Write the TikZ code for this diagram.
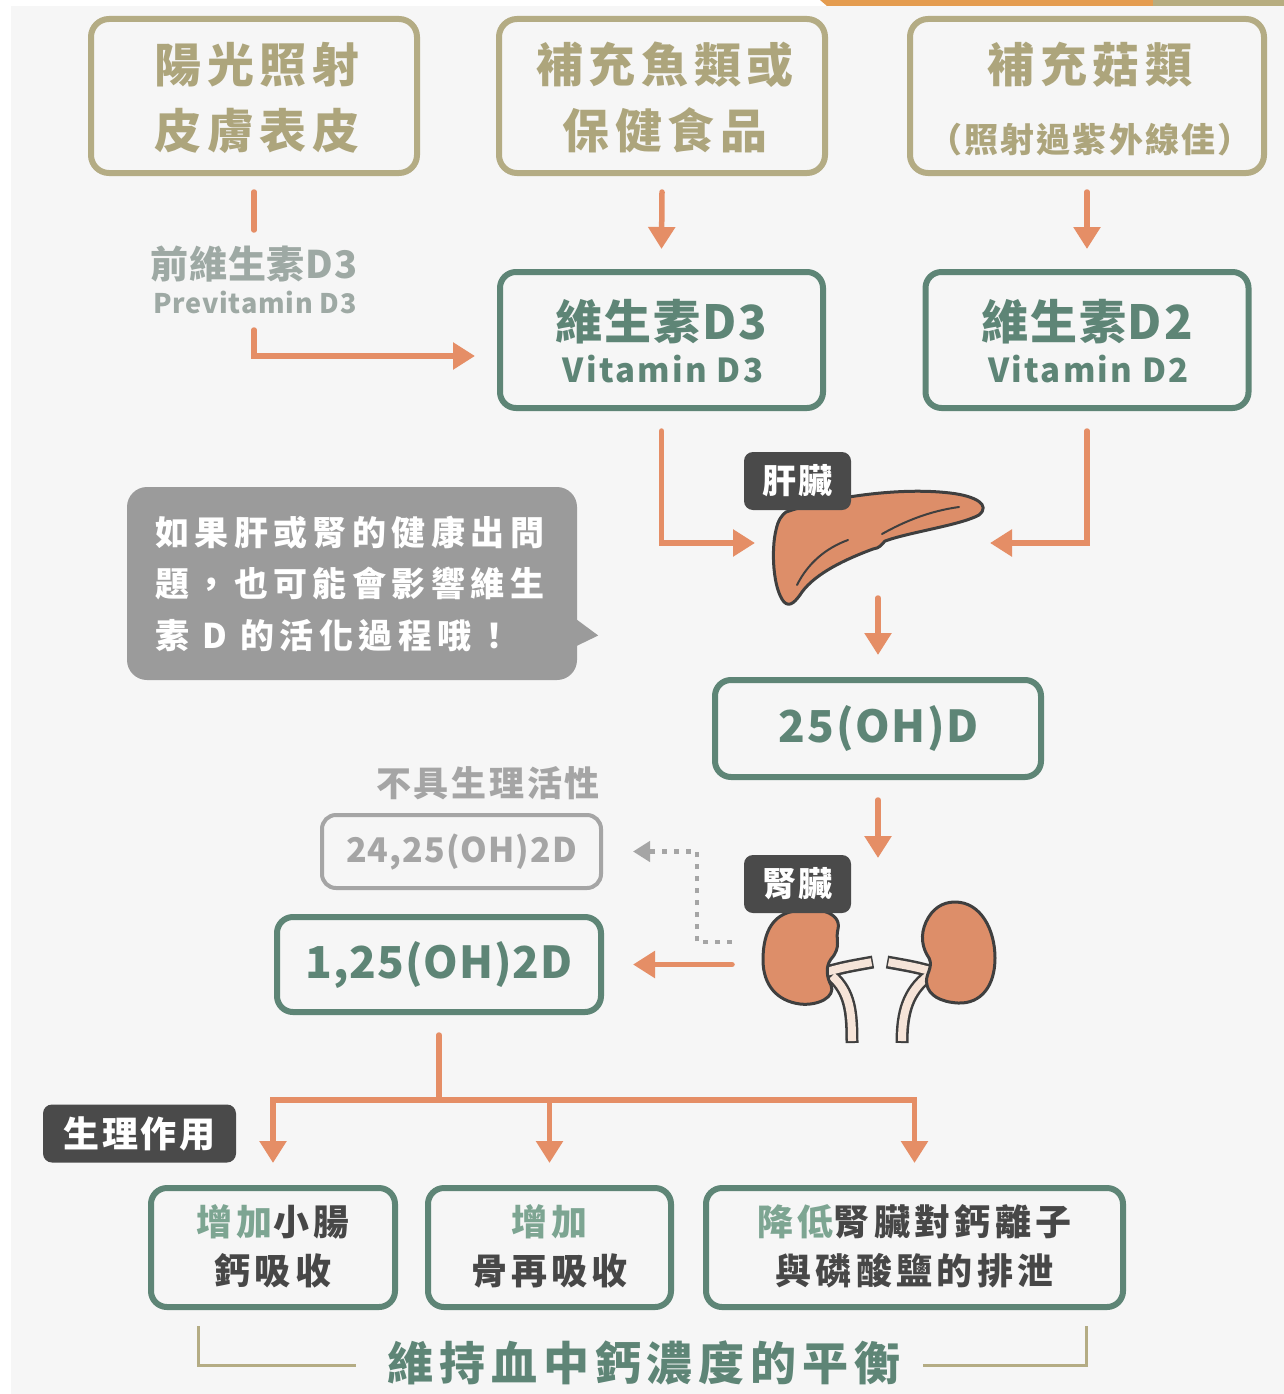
\documentclass[tikz,border=0pt]{standalone}
\usepackage{fontspec}
\setmainfont{Noto Sans CJK TC}
\usetikzlibrary{arrows.meta,calc}

\newcommand\setfs[2]{\fontsize{#1}{#2}\selectfont}
\newcommand\trk[1]{\addfontfeature{LetterSpace=#1}}

\definecolor{bgc}{HTML}{F6F6F6}
\definecolor{olive}{HTML}{B4AC84}
\definecolor{olivetxt}{HTML}{ADA57C}
\definecolor{sage}{HTML}{5E8576}
\definecolor{sagelt}{HTML}{7DA592}
\definecolor{coral}{HTML}{E58E66}
\definecolor{mist}{HTML}{9EA9A4}
\definecolor{ash}{HTML}{A5A5A5}
\definecolor{charcoal}{HTML}{4A4A4A}
\definecolor{bubblec}{HTML}{9B9B9B}
\definecolor{ink}{HTML}{3F3F3F}
\definecolor{organ}{HTML}{DD8E69}
\definecolor{duct}{HTML}{F6E4D8}
\definecolor{topor}{HTML}{E49C50}
\definecolor{topol}{HTML}{B7AD80}
\definecolor{bodytxt}{HTML}{474747}

\tikzset{
  srcbox/.style={draw=olive, line width=6pt, rounded corners=18pt, minimum height=154pt, inner sep=0pt},
  grnbox/.style={draw=sage, line width=6pt, rounded corners=16pt, inner sep=0pt},
  greybox/.style={draw=ash, line width=4pt, rounded corners=14pt, inner sep=0pt},
  tag/.style={fill=charcoal, rounded corners=9pt, text=white, inner sep=0pt,
    font=\setfs{34}{40}\bfseries\trk{6}},
  txt/.style={anchor=base, inner sep=0pt},
  srctxt/.style={txt, text=olivetxt, font=\setfs{47}{56}\bfseries\trk{12}},
  titletxt/.style={txt, text=sage, font=\setfs{47}{56}\bfseries\trk{4}},
  subtxt/.style={txt, text=sage, font=\setfs{33}{40}\bfseries\trk{7}},
  chemtxt/.style={txt, text=sage, font=\setfs{44}{52}\bfseries\trk{4}},
  efftxt/.style={txt, text=bodytxt, font=\setfs{36}{44}\bfseries\trk{12}},
  bubtxt/.style={anchor=base west, inner sep=0pt, text=white, font=\setfs{34}{40}\bfseries\trk{16}},
  ln/.style={draw=coral, line width=5.5pt, line cap=round},
  arr/.style={ln, -{Triangle[length=22pt,width=26pt]}},
  dotarr/.style={draw=ash, line width=4.5pt, dash pattern=on 5pt off 7pt,
    -{Triangle[length=17pt,width=20pt]}},
  bracket/.style={draw=olive, line width=3pt},
  outline/.style={draw=ink, line width=3pt, line join=round},
  tubeout/.style={draw=ink, line width=13pt},
  tubein/.style={draw=duct, line width=8pt},
}

\begin{document}
\begin{tikzpicture}[x=1pt,y=-1pt]
\useasboundingbox (0,0) rectangle (1284,1394);

% page background and top strip
\fill[white] (0,0) rectangle (1284,1394);
\fill[bgc] (11,6) rectangle (1284,1394);
\fill[topor] (820,0) -- (1153,0) -- (1153,6) -- (827,6) -- cycle;
\fill[topol] (1153,0) rectangle (1284,6);

% sources
\node[srcbox, minimum width=326pt] (sun) at (254,96) {};
\node[srctxt] (sun1) at (257,83) {陽光照射};
\node[srctxt] (sun2) at (257,149) {皮膚表皮};

\node[srcbox, minimum width=326pt] (fish) at (662,96) {};
\node[srctxt] (fish1) at (665,83) {補充魚類或};
\node[srctxt] (fish2) at (665,149) {保健食品};

\node[srcbox, minimum width=354pt] (mush) at (1087,96) {};
\node[srctxt] (mush1) at (1090,83) {補充菇類};
\node[txt, text=olivetxt, font=\setfs{34}{40}\bfseries\trk{6}] (mush2) at (1090,152) {（照射過紫外線佳）};

% previtamin label
\node[txt, text=mist, font=\setfs{38}{44}\bfseries\trk{2}] (pre1) at (254,278) {前維生素D3};
\node[txt, text=mist, font=\setfs{27}{34}\bfseries\trk{3}] (pre2) at (255,313) {Previtamin D3};

% vitamin boxes
\node[grnbox, minimum width=323pt, minimum height=136pt] (vd3) at (661.5,340) {};
\node[titletxt] (vd3a) at (661.5,339) {維生素D3};
\node[subtxt] (vd3b) at (663,382) {Vitamin D3};

\node[grnbox, minimum width=323pt, minimum height=136pt] (vd2) at (1087,340) {};
\node[titletxt] (vd2a) at (1087,339) {維生素D2};
\node[subtxt] (vd2b) at (1088.5,382) {Vitamin D2};

% liver
\filldraw[outline, fill=organ]
  (786,512) .. controls (830,497) and (900,487) .. (950,493)
  .. controls (976,496) and (991,505) .. (979,515)
  .. controls (961,525) and (910,532) .. (885,541)
  .. controls (881,545) and (880,548) .. (873,549)
  .. controls (846,559) and (816,573) .. (802,592)
  .. controls (796,601) and (790,608) .. (784,602)
  .. controls (773,589) and (771,550) .. (776,530)
  .. controls (778,520) and (782,515) .. (786,512) -- cycle;
\draw[ink, line width=2pt, line cap=round] (797,585) .. controls (808,563) and (826,548) .. (848,540);
\draw[ink, line width=2pt, line cap=round] (882,534) .. controls (905,521) and (930,511) .. (959,507);
\node[tag, minimum width=107pt, minimum height=58pt] (livertag) at (797.5,481) {肝臟};
\coordinate (liverL) at (755,543);
\coordinate (liverR) at (990,543);
\coordinate (liverB) at (878,598);

% 25(OH)D
\node[grnbox, minimum width=326pt, minimum height=97pt] (oh25) at (878,728.5) {};
\node[chemtxt] (oh25t) at (879,742) {25(OH)D};

% kidneys: ureters first, organs on top
\draw[tubeout] (826,972) .. controls (845,967) .. (873,962);
\draw[tubeout] (832,976) .. controls (850,992) and (852,1012) .. (852,1043);
\draw[tubeout] (934,972) .. controls (915,967) .. (887,962);
\draw[tubeout] (928,976) .. controls (908,992) and (902,1012) .. (902,1043);
\draw[tubein] (826,972) .. controls (845,967) .. (871.5,962.2);
\draw[tubein] (832,976) .. controls (850,992) and (852,1012) .. (852,1041);
\draw[tubein] (934,972) .. controls (915,967) .. (888.5,962.2);
\draw[tubein] (928,976) .. controls (908,992) and (902,1012) .. (902,1041);
\filldraw[outline, fill=organ]
  (790,912) .. controls (815,905) and (842,912) .. (838,929)
  .. controls (835,939) and (842,947) .. (831,959)
  .. controls (825,967) and (827,978) .. (831,985)
  .. controls (836,997) and (818,1006) .. (800,1004)
  .. controls (777,1001) and (763,985) .. (763,960)
  .. controls (763,935) and (771,917) .. (790,912) -- cycle;
\filldraw[outline, fill=organ]
  (955,902) .. controls (981,902) and (995,930) .. (995,958)
  .. controls (995,986) and (981,1004) .. (958,1003)
  .. controls (940,1002) and (929,995) .. (927,985)
  .. controls (924,975) and (934,968) .. (929,958)
  .. controls (922,948) and (920,935) .. (926,922)
  .. controls (932,909) and (942,902) .. (955,902) -- cycle;
\node[tag, minimum width=107pt, minimum height=58pt] (kidtag) at (797.5,884) {腎臟};
\coordinate (kidT) at (878,858);
\coordinate (kidL) at (732,964.5);
\coordinate (kidD) at (732,942);

% metabolites
\node[txt, text=ash, font=\setfs{35}{42}\bfseries\trk{8}] (inact) at (488,796) {不具生理活性};
\node[greybox, minimum width=279pt, minimum height=73pt] (g2425) at (461.5,851.5) {};
\node[txt, text=ash, font=\setfs{34}{40}\bfseries\trk{3}] (g2425t) at (461.5,862) {24,25(OH)2D};
\node[grnbox, minimum width=324pt, minimum height=95pt] (oh125) at (439,964.5) {};
\node[chemtxt, font=\setfs{44}{52}\bfseries\trk{2}] (oh125t) at (439,978) {1,25(OH)2D};

% speech bubble
\node[fill=bubblec, rounded corners=20pt, minimum width=450pt, minimum height=193pt, inner sep=0pt] (bubble) at (352,583.5) {};
\fill[bubblec] ($(bubble.east)+(-10,29)$) -- ($(bubble.east)+(21,52)$) -- ($(bubble.east)+(-10,67)$) -- cycle;
\node[bubtxt] (bub1) at (155,545) {如果肝或腎的健康出問};
\node[bubtxt] (bub2) at (155,596) {題，也可能會影響維生};
\node[bubtxt] (bub3) at (155,648) {素 D 的活化過程哦！};

% effects
\node[tag, minimum width=193pt, minimum height=58pt, font=\setfs{36}{42}\bfseries\trk{8}] (efftag) at (139.5,1133.5) {生理作用};
\node[grnbox, minimum width=244pt, minimum height=119pt] (b1) at (273,1247.5) {};
\node[efftxt] (b1a) at (273,1235) {{\color{sagelt}增加}小腸};
\node[efftxt] (b1b) at (273,1284) {鈣吸收};
\node[grnbox, minimum width=243pt, minimum height=119pt] (b2) at (549.5,1247.5) {};
\node[efftxt] (b2a) at (549.5,1235) {{\color{sagelt}增加}};
\node[efftxt] (b2b) at (549.5,1284) {骨再吸收};
\node[grnbox, minimum width=417pt, minimum height=119pt] (b3) at (914.5,1247.5) {};
\node[efftxt] (b3a) at (914.5,1235) {{\color{sagelt}降低}腎臟對鈣離子};
\node[efftxt] (b3b) at (914.5,1284) {與磷酸鹽的排泄};

% summary bracket
\node[txt, text=sage, font=\setfs{46}{54}\bfseries\trk{13}] (balance) at (644,1380) {維持血中鈣濃度的平衡};
\coordinate (brL) at (198,1326);
\coordinate (brLe) at (356,1365);
\coordinate (brR) at (1086,1326);
\coordinate (brRs) at (923,1365);
\draw[bracket] (brL) |- (brLe);
\draw[bracket] (brRs) -| (brR);

% connectors
\draw[ln] ($(sun.south)+(0,16)$) -- ($(sun.south)+(0,54)$);
\coordinate (preA) at ($(sun.south)+(0,154)$);
\draw[arr] (preA) |- ($(vd3.west)+(-22,16)$);
\draw[arr] ($(fish.south)+(0,16)$) -- ($(vd3.north)+(0,-20)$);
\draw[arr] ($(mush.south)+(0,16)$) -- ($(vd2.north)+(0,-20)$);
\draw[arr] ($(vd3.south)+(0,20)$) |- (liverL);
\draw[arr] ($(vd2.south)+(0,20)$) |- (liverR);
\draw[arr] (liverB) -- ($(oh25.north)+(0,-22)$);
\draw[arr] ($(oh25.south)+(0,20)$) -- (kidT);
\draw[arr] (kidL) -- ($(oh125.east)+(29,0)$);
\draw[dotarr] (kidD) -| ($(g2425.east)+(94,0)$) -- ($(g2425.east)+(30,0)$);
\coordinate (split) at ($(oh125.south)+(0,85)$);
\draw[ln] ($(oh125.south)+(0,20)$) -- (split);
\draw[arr] (split) -| ($(b1.north)+(0,-22)$);
\draw[arr] (split) -| ($(b3.north)+(0,-22)$);
\draw[arr] (split -| b2.north) -- ($(b2.north)+(0,-22)$);
\end{tikzpicture}
\end{document}
